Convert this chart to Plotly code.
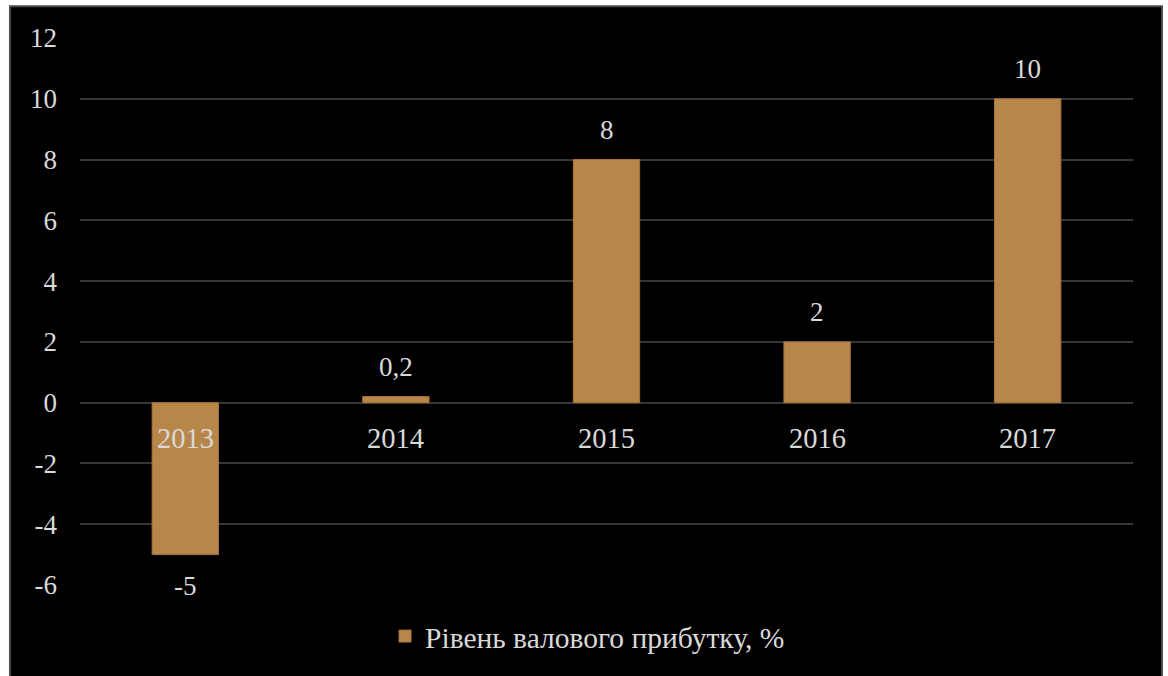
import plotly.graph_objects as go

# Gross profit level by year, %
years = ["2013", "2014", "2015", "2016", "2017"]
values = [-5, 0.2, 8, 2, 10]
value_labels = ["-5", "0,2", "8", "2", "10"]
y_ticks = [-6, -4, -2, 0, 2, 4, 6, 8, 10, 12]
series_name = "Рівень валового прибутку, %"

Y_MIN, Y_MAX = -6, 12
FONT = "Times New Roman"
TEXT = "#d9d9d9"
BAR = "#b9864a"

fig = go.Figure()
fig.add_trace(go.Bar(
    x=years, y=values, name=series_name,
    marker=dict(color=BAR, line=dict(color="#a5743d", width=1)),
    showlegend=True,
))

# value labels off the bar ends, year labels just under the zero line
# (annotations use the category index so numeric-looking names are not misread)
for i, (yr, v, lab) in enumerate(zip(years, values, value_labels)):
    fig.add_annotation(
        x=i, y=v, text=lab, showarrow=False,
        yshift=30 if v >= 0 else -31,
        font=dict(family=FONT, size=27, color=TEXT),
    )
    fig.add_annotation(
        x=i, y=0, text=yr, showarrow=False, yshift=-36,
        font=dict(family=FONT, size=28.5, color=TEXT),
    )

# dark panel with a thin grey frame behind the chart
fig.add_shape(
    type="rect", xref="paper", yref="paper",
    x0=-0.0665, x1=1.0275, y0=-0.17, y1=1.058,
    fillcolor="black", line=dict(color="#4a4a4a", width=2), layer="below",
)

fig.update_layout(
    width=1168, height=676,
    margin=dict(l=80, r=35, t=38, b=91),
    paper_bgcolor="white", plot_bgcolor="black",
    font=dict(family=FONT, size=27, color=TEXT),
    bargap=0.685,
    showlegend=True,
    legend=dict(
        orientation="h", x=0.482, xanchor="center", y=-0.094, yanchor="middle",
        font=dict(family=FONT, size=29.5, color=TEXT), bgcolor="rgba(0,0,0,0)",
    ),
    xaxis=dict(
        type="category", categoryarray=years, range=[-0.5, len(years) - 0.5],
        showline=False, showgrid=False, ticks="", showticklabels=False,
        zeroline=False,
    ),
    yaxis=dict(
        range=[Y_MIN, Y_MAX], tickvals=y_ticks,
        ticktext=[str(t) for t in y_ticks],
        showgrid=True, gridcolor="#363636", gridwidth=2,
        zeroline=True, zerolinecolor="#363636", zerolinewidth=2,
        showline=False, ticks="",
        tickfont=dict(family=FONT, size=27, color=TEXT),
        ticklabelstandoff=22,
    ),
)

fig.write_html("out.html")
